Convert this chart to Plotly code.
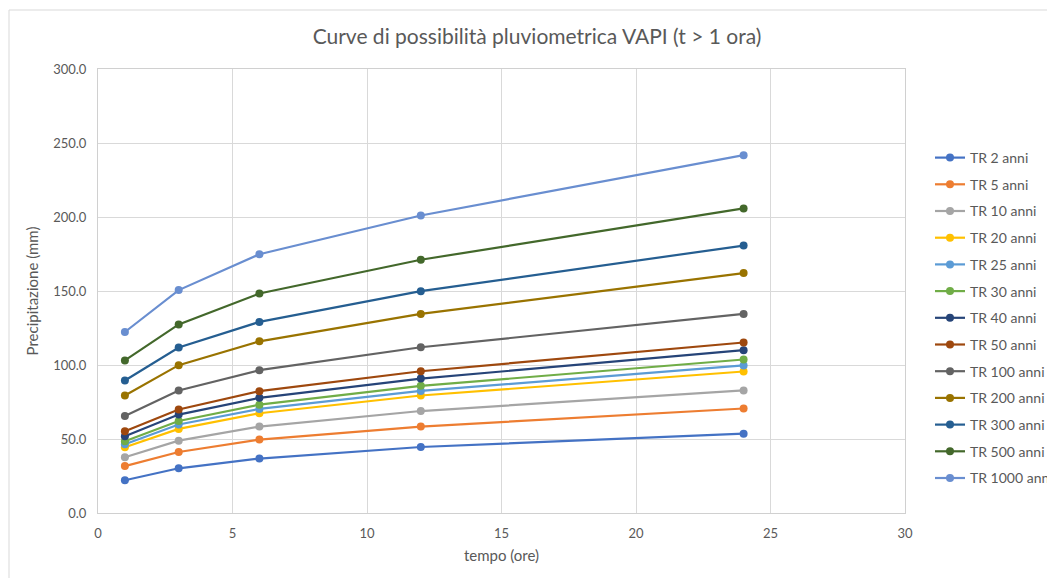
import plotly.graph_objects as go

durations = [1, 3, 6, 12, 24]
series_names = ["TR 2 anni", "TR 5 anni", "TR 10 anni", "TR 20 anni", "TR 25 anni",
                "TR 30 anni", "TR 40 anni", "TR 50 anni", "TR 100 anni", "TR 200 anni",
                "TR 300 anni", "TR 500 anni", "TR 1000 anni"]
tr2 = [22.1, 30.2, 36.8, 44.6, 53.6]
tr5 = [31.7, 41.2, 49.6, 58.4, 70.6]
tr10 = [37.7, 48.9, 58.4, 68.9, 82.8]
tr20 = [44.4, 56.8, 67.4, 79.4, 95.6]
tr25 = [46.4, 59.8, 70.3, 82.5, 99.7]
tr30 = [48.5, 62.2, 73.2, 85.9, 103.7]
tr40 = [51.8, 66.5, 77.8, 90.8, 110.0]
tr50 = [55.3, 69.9, 82.3, 95.8, 115.2]
tr100 = [65.6, 82.8, 96.5, 112.0, 134.5]
tr200 = [79.4, 99.9, 116.0, 134.5, 162.1]
tr300 = [89.5, 111.8, 129.1, 149.9, 180.7]
tr500 = [103.1, 127.4, 148.3, 171.1, 205.8]
tr1000 = [122.3, 150.6, 174.8, 201.0, 241.8]
series_values = [tr2, tr5, tr10, tr20, tr25, tr30, tr40, tr50, tr100, tr200, tr300, tr500, tr1000]
colors = ["#4472C4", "#ED7D31", "#A5A5A5", "#FFC000", "#5B9BD5", "#70AD47", "#264478",
          "#9E480E", "#636363", "#997300", "#255E91", "#43682B", "#698ED0"]
x_ticks = [0, 5, 10, 15, 20, 25, 30]
y_ticks = [0, 50, 100, 150, 200, 250, 300]

FONT = "Lato"
GREY = "#595959"

fig = go.Figure()
for name, vals, col in zip(series_names, series_values, colors):
    fig.add_trace(go.Scatter(
        x=durations, y=vals, name=name, mode="lines+markers",
        line=dict(color=col, width=2.2),
        marker=dict(color=col, size=8),
        legendgroup=name,
    ))

W, H = 1047, 578
ml, mr, mt, mb = 98, 142, 69, 65
pw, ph = W - ml - mr, H - mt - mb

def px_x(p):
    return (p - ml) / pw

def px_y(p):
    return (H - mb - p) / ph

fig.update_layout(
    width=W, height=H,
    margin=dict(l=ml, r=mr, t=mt, b=mb, autoexpand=False),
    paper_bgcolor="white", plot_bgcolor="white",
    font=dict(family=FONT, size=13, color=GREY),
    title=dict(text="Curve di possibilità pluviometrica VAPI (t > 1 ora)",
               x=537 / W, xanchor="center", y=1 - 37 / H, yanchor="middle",
               font=dict(family=FONT, size=21, color=GREY)),
    xaxis=dict(range=[0, 30], tickvals=x_ticks, ticktext=[str(v) for v in x_ticks],
               showgrid=True, gridcolor="#D9D9D9", gridwidth=1,
               showline=True, linecolor="#D0D0D0", mirror=True, zeroline=False,
               ticks="", tickfont=dict(size=13, color=GREY), ticklabelstandoff=8,
               title=dict(text="tempo (ore)", font=dict(size=15, color=GREY), standoff=10)),
    yaxis=dict(range=[0, 300], tickvals=y_ticks, ticktext=["%.1f" % v for v in y_ticks],
               showgrid=True, gridcolor="#D9D9D9", gridwidth=1,
               showline=True, linecolor="#D0D0D0", mirror=True, zeroline=False,
               ticks="", tickfont=dict(size=13, color=GREY), ticklabelstandoff=8,
               title=dict(text="Precipitazione (mm)", font=dict(size=15, color=GREY), standoff=10)),
    legend=dict(xref="container", yref="container",
                x=930 / W, y=1 - 142 / H, xanchor="left", yanchor="top",
                font=dict(family=FONT, size=14, color=GREY),
                tracegroupgap=5.5, itemwidth=30, bgcolor="rgba(0,0,0,0)",
                maxheight=560),
    showlegend=True,
)

fig.add_shape(type="rect", xref="paper", yref="paper",
              x0=px_x(9), x1=px_x(W + 20), y0=px_y(H + 20), y1=px_y(10),
              line=dict(color="#D9D9D9", width=1), fillcolor="rgba(0,0,0,0)", layer="below")

fig.write_html("out.html")
